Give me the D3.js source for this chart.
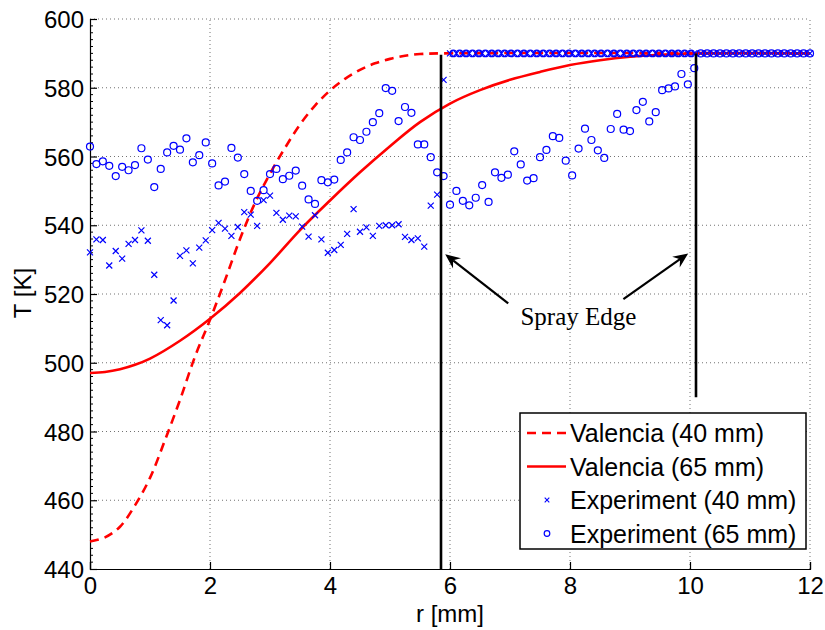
<!DOCTYPE html>
<html>
<head>
<meta charset="utf-8">
<script src="https://cdn.jsdelivr.net/npm/d3@7"></script>
<style>
  html, body { margin: 0; padding: 0; background: #fff; }
  svg { display: block; }
</style>
</head>
<body>
<svg id="chart" width="825" height="630"></svg>
<script>
// ---------------- data ----------------
const xTicks = [0, 2, 4, 6, 8, 10, 12];
const yTicks = [440, 460, 480, 500, 520, 540, 560, 580, 600];
const xLabel = "r [mm]";
const yLabel = "T [K]";
const legendLabels = ["Valencia (40 mm)", "Valencia (65 mm)", "Experiment (40 mm)", "Experiment (65 mm)"];
const annotationText = "Spray Edge";

// Valencia model curves
const valR40 = [0, 0.25, 0.5, 0.75, 1.0, 1.25, 1.5, 1.75, 2.0, 2.25, 2.5, 2.75, 3.0, 3.25, 3.5, 3.75, 4.0, 4.25, 4.5, 4.75, 5.0, 5.25, 5.5, 5.85, 12];
const valT40 = [448, 449.2, 452.3, 458.5, 466.5, 477.5, 489.2, 501.8, 512.5, 524, 536, 546.5, 555, 562.5, 569.3, 574.8, 579.2, 582.6, 585.2, 587.1, 588.4, 589.3, 589.8, 590, 590];
const valR65 = [0, 0.25, 0.5, 0.75, 1.0, 1.5, 2.0, 2.5, 3.0, 3.5, 4.0, 4.5, 5.0, 5.5, 6.0, 6.5, 7.0, 7.5, 8.0, 8.5, 9.0, 9.5, 10.1, 12];
const valT65 = [497, 497.3, 498.1, 499.4, 501.2, 506.4, 512.8, 520.3, 529, 538.6, 547.2, 555.4, 563, 570, 575.4, 579.3, 582.3, 584.6, 586.6, 588, 589, 589.6, 590, 590];

// experimental radial positions (shared by both experiment series)
const rGrid = [
  0.000, 0.107, 0.214, 0.321, 0.429, 0.536, 0.643, 0.750, 0.857, 0.964,
  1.071, 1.179, 1.286, 1.393, 1.500, 1.607, 1.714, 1.821, 1.929, 2.036,
  2.143, 2.250, 2.357, 2.464, 2.571, 2.679, 2.786, 2.893, 3.000, 3.107,
  3.214, 3.321, 3.429, 3.536, 3.643, 3.750, 3.857, 3.964, 4.071, 4.179,
  4.286, 4.393, 4.500, 4.607, 4.714, 4.821, 4.929, 5.036, 5.143, 5.250,
  5.357, 5.464, 5.571, 5.679, 5.786, 5.893, 6.000, 6.107, 6.214, 6.321,
  6.429, 6.536, 6.643, 6.750, 6.857, 6.964, 7.071, 7.179, 7.286, 7.393,
  7.500, 7.607, 7.714, 7.821, 7.929, 8.036, 8.143, 8.250, 8.357, 8.464,
  8.571, 8.679, 8.786, 8.893, 9.000, 9.107, 9.214, 9.321, 9.429, 9.536,
  9.643, 9.750, 9.857, 9.964, 10.071, 10.179, 10.286, 10.393, 10.500, 10.607,
  10.714, 10.821, 10.929, 11.036, 11.143, 11.250, 11.357, 11.464, 11.571, 11.679,
  11.786, 11.893, 12.000
];
const expT40 = [
  532.1, 535.9, 535.7, 528.3, 532.5, 530.3, 534.6, 535.7, 538.5, 535.5,
  525.6, 512.4, 510.9, 518.1, 531.1, 532.7, 528.9, 533.5, 535.6, 538.6,
  540.7, 539.0, 536.9, 539.5, 543.8, 543.1, 539.8, 547.3, 548.6, 543.6,
  541.6, 542.8, 542.6, 539.6, 536.7, 542.9, 535.9, 532.0, 532.8, 534.3,
  537.5, 544.7, 538.1, 539.4, 536.9, 539.8, 540.0, 540.0, 540.3, 536.6,
  535.7, 536.2, 533.8, 545.7, 548.9, 582.3, 590, 590, 590, 590,
  590, 590, 590, 590, 590, 590, 590, 590, 590, 590,
  590, 590, 590, 590, 590, 590, 590, 590, 590, 590,
  590, 590, 590, 590, 590, 590, 590, 590, 590, 590,
  590, 590, 590, 590, 590, 590, 590, 590, 590, 590,
  590, 590, 590, 590, 590, 590, 590, 590, 590, 590,
  590, 590, 590
];
const expT65 = [
  562.9, 557.8, 558.6, 557.3, 554.3, 557.0, 556.0, 557.5, 562.4, 559.1,
  551.1, 556.4, 561.2, 563.1, 562.0, 565.3, 558.3, 560.4, 564.1, 558.0,
  551.6, 552.7, 562.5, 559.7, 554.9, 550.0, 547.1, 550.2, 554.9, 556.4,
  553.4, 554.4, 555.9, 551.5, 547.5, 546.2, 553.1, 552.5, 553.3, 559.0,
  561.2, 565.6, 564.8, 567.2, 570.0, 572.6, 579.9, 579.1, 570.3, 574.4,
  572.7, 563.5, 563.5, 559.8, 555.4, 554.3, 546.0, 550.0, 547.1, 545.8,
  548.0, 551.7, 546.8, 555.4, 553.8, 554.7, 561.5, 557.7, 553.0, 553.7,
  559.8, 561.9, 565.9, 565.4, 558.8, 554.5, 562.3, 568.1, 564.8, 561.8,
  559.6, 568.0, 572.4, 567.8, 567.4, 573.5, 575.9, 570.2, 572.9, 579.3,
  579.8, 580.4, 584.0, 581.0, 585.7, 590, 590, 590, 590, 590,
  590, 590, 590, 590, 590, 590, 590, 590, 590, 590,
  590, 590, 590
];
// additional circle markers sitting on the 590 K plateau between the two edges
const rPlateau = [
  6.054, 6.161, 6.268, 6.375, 6.482, 6.589, 6.696, 6.804, 6.911, 7.018,
  7.125, 7.232, 7.339, 7.446, 7.554, 7.661, 7.768, 7.875, 7.982, 8.089,
  8.196, 8.304, 8.411, 8.518, 8.625, 8.732, 8.839, 8.946, 9.054, 9.161,
  9.268, 9.375, 9.482, 9.589, 9.696, 9.804, 9.911, 10.018
];
const tPlateau = [
  590, 590, 590, 590, 590, 590, 590, 590, 590, 590,
  590, 590, 590, 590, 590, 590, 590, 590, 590, 590,
  590, 590, 590, 590, 590, 590, 590, 590, 590, 590,
  590, 590, 590, 590, 590, 590, 590, 590
];

// spray edges: [r, T top, T bottom]
const edgeR = [5.85, 10.1];
const edgeTop = [589.6, 590];
const edgeBottom = [440, 490];
// arrows: start (r,T) -> tip (r,T)
const arrowStartR = [6.97, 8.89];
const arrowStartT = [517.3, 518.5];
const arrowTipR = [5.92, 9.97];
const arrowTipT = [531.6, 531.8];
const labelR = 8.14, labelT = 513.4;

// ---------------- layout ----------------
const SANS = '"Liberation Sans", Arial, Helvetica, sans-serif';
const SERIF = '"Liberation Serif", "Times New Roman", Times, serif';
const M = { left: 90, top: 19, right: 810, bottom: 569 };
const svg = d3.select("#chart");
const x = d3.scaleLinear().domain([0, 12]).range([M.left, M.right]);
const y = d3.scaleLinear().domain([440, 600]).range([M.bottom, M.top]);
const BLUE = "#0000ff", RED = "#ff0000";

svg.append("rect").attr("width", 825).attr("height", 630).attr("fill", "#fff");

// grid
const grid = svg.append("g").attr("stroke", "#000").attr("stroke-width", 1)
  .attr("stroke-dasharray", "1,3").attr("opacity", 0.55);
xTicks.filter(d => d > 0).forEach(d => {
  grid.append("line").attr("x1", x(d)).attr("x2", x(d)).attr("y1", M.bottom).attr("y2", M.top);
});
yTicks.filter(d => d > 440).forEach(d => {
  grid.append("line").attr("x1", M.left).attr("x2", M.right).attr("y1", y(d)).attr("y2", y(d));
});

// axes
const xAxis = d3.axisBottom(x).tickValues(xTicks).tickSize(-7).tickPadding(8).tickFormat(d3.format("d"));
const yAxis = d3.axisLeft(y).tickValues(yTicks).tickSize(-7).tickPadding(6).tickFormat(d3.format("d"));
const gx = svg.append("g").attr("transform", `translate(0,${M.bottom})`).call(xAxis);
const gy = svg.append("g").attr("transform", `translate(${M.left},0)`).call(yAxis);
// minor ticks on y axis every 2 K
const yMinor = d3.range(440, 601, 2).filter(v => v % 20 !== 0);
gy.selectAll(".minor").data(yMinor).join("line").attr("class", "minor")
  .attr("x1", 0).attr("x2", 3).attr("y1", d => y(d)).attr("y2", d => y(d))
  .attr("stroke", "#000").attr("stroke-width", 1);
[gx, gy].forEach(g => {
  g.select(".domain").attr("stroke", "#000").attr("stroke-width", 1.2);
  g.selectAll(".tick line").attr("stroke", "#000").attr("stroke-width", 1.2);
  g.selectAll(".tick text").attr("fill", "#000")
    .style("font-family", SANS).style("font-size", "24px");
});
gy.selectAll(".tick text").attr("dy", "0.36em");

svg.append("text").attr("x", 450).attr("y", 622).attr("text-anchor", "middle")
  .style("font-family", SANS).style("font-size", "24px").text(xLabel);
svg.append("text").attr("transform", "translate(31,293) rotate(-90)").attr("text-anchor", "middle")
  .style("font-family", SANS).style("font-size", "24px").text(yLabel);

// model curves
const line = d3.line().x(d => x(d[0])).y(d => y(d[1])).curve(d3.curveCatmullRom.alpha(0.5));
svg.append("path").datum(valR40.map((r, i) => [r, valT40[i]]))
  .attr("d", line).attr("fill", "none").attr("stroke", RED).attr("stroke-width", 2.6)
  .attr("stroke-dasharray", "9,6");
svg.append("path").datum(valR65.map((r, i) => [r, valT65[i]]))
  .attr("d", line).attr("fill", "none").attr("stroke", RED).attr("stroke-width", 2.6);

// markers
function drawCross(g, px, py, s, w) {
  g.append("path").attr("d", `M${px - s},${py - s}L${px + s},${py + s}M${px - s},${py + s}L${px + s},${py - s}`)
    .attr("stroke", BLUE).attr("stroke-width", w).attr("fill", "none");
}
const mk = svg.append("g");
rGrid.forEach((r, i) => drawCross(mk, x(r), y(expT40[i]), 3, 1.2));
mk.selectAll("circle.e65").data(rGrid.map((r, i) => [r, expT65[i]])).join("circle")
  .attr("class", "e65").attr("cx", d => x(d[0])).attr("cy", d => y(d[1])).attr("r", 3.5)
  .attr("fill", "none").attr("stroke", BLUE).attr("stroke-width", 1.2);
mk.selectAll("circle.pl").data(rPlateau.map((r, i) => [r, tPlateau[i]])).join("circle")
  .attr("class", "pl").attr("cx", d => x(d[0])).attr("cy", d => y(d[1])).attr("r", 3.3)
  .attr("fill", "none").attr("stroke", BLUE).attr("stroke-width", 1.2);

// spray edge lines
edgeR.forEach((r, i) => {
  svg.append("line").attr("x1", x(r)).attr("x2", x(r)).attr("y1", y(edgeTop[i])).attr("y2", y(edgeBottom[i]))
    .attr("stroke", "#000").attr("stroke-width", 2.6);
});

// arrows
arrowStartR.forEach((r, i) => {
  const x0 = x(r), y0 = y(arrowStartT[i]), x1 = x(arrowTipR[i]), y1 = y(arrowTipT[i]);
  const ang = Math.atan2(y1 - y0, x1 - x0);
  const L = 15, W = 6.5, N = 10;
  const ux = Math.cos(ang), uy = Math.sin(ang), nx = -uy, ny = ux;
  svg.append("line").attr("x1", x0).attr("y1", y0).attr("x2", x1 - ux * N).attr("y2", y1 - uy * N)
    .attr("stroke", "#000").attr("stroke-width", 2.2);
  const bx = x1 - ux * L, by = y1 - uy * L;
  const p = [[x1, y1], [bx + nx * W, by + ny * W], [x1 - ux * N, y1 - uy * N], [bx - nx * W, by - ny * W]];
  svg.append("path").attr("d", "M" + p.map(q => q.join(",")).join("L") + "Z").attr("fill", "#000");
});
svg.append("text").attr("x", x(labelR)).attr("y", y(labelT)).attr("dy", "0.35em")
  .attr("text-anchor", "middle").style("font-family", SERIF).style("font-size", "25px")
  .text(annotationText);

// legend
const lg = svg.append("g");
lg.append("rect").attr("x", 520).attr("y", 413).attr("width", 286).attr("height", 136)
  .attr("fill", "#fff").attr("stroke", "#000").attr("stroke-width", 1.5);
const rowY = [433, 466.5, 500, 533.5];
lg.append("line").attr("x1", 527).attr("x2", 566).attr("y1", rowY[0]).attr("y2", rowY[0])
  .attr("stroke", RED).attr("stroke-width", 2.6).attr("stroke-dasharray", "9,6");
lg.append("line").attr("x1", 527).attr("x2", 566).attr("y1", rowY[1]).attr("y2", rowY[1])
  .attr("stroke", RED).attr("stroke-width", 2.6);
drawCross(lg, 547, rowY[2], 2.3, 1.1);
lg.append("circle").attr("cx", 547).attr("cy", rowY[3]).attr("r", 2.8)
  .attr("fill", "none").attr("stroke", BLUE).attr("stroke-width", 1.2);
legendLabels.forEach((t, i) => {
  lg.append("text").attr("x", 570).attr("y", rowY[i]).attr("dy", "0.36em")
    .style("font-family", SANS).style("font-size", "25px").text(t);
});
</script>
</body>
</html>
